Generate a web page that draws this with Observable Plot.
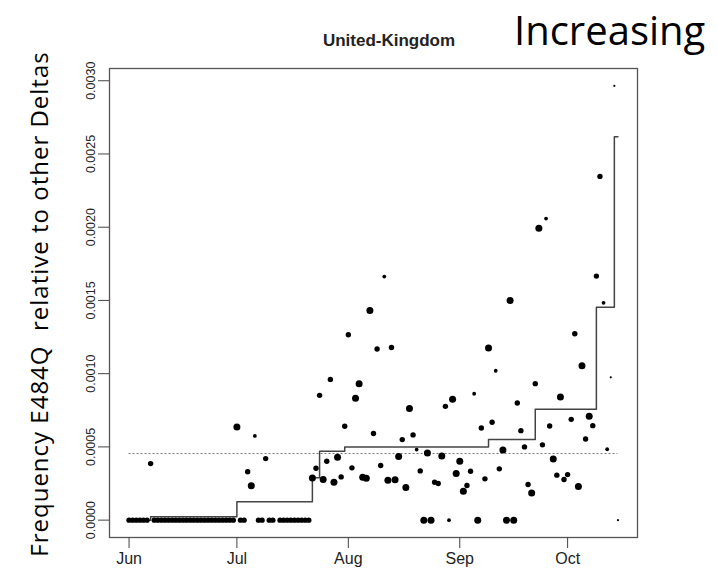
<!DOCTYPE html>
<html>
<head>
<meta charset="utf-8">
<script src="https://cdn.jsdelivr.net/npm/d3@7"></script>
<script src="https://cdn.jsdelivr.net/npm/@observablehq/plot@0.6"></script>
<style>
  body { margin: 0; background: #fff; }
  #chart { width: 718px; height: 575px; }
</style>
</head>
<body>
<div id="chart"></div>
<script>
// Daily frequency of E484Q among Delta sequences, United Kingdom, 2021.
// Each month: day of month, frequency, and a relative sequence-count weight (dot size).
const junDay  = [1,2,3,4,5,6,7,8,9,10,11,12,13,14,15,16,17,18,19,20,21,22,23,24,25,26,27,28,29,30];
const junFreq = [0,0,0,0,0,0,0.000386,0,0,0,0,0,0,0,0,0,0,0,0,0,0,0,0,0,0,0,0,0,0,0];
const junWt   = [3,3,3,3,3,3,3,3,3,3,3,3,3,3,3,3,3,3,3,3,3,3,3,3,3,3,3,3,3,3];

const julDay  = [1,2,3,4,5,6,7,8,9,10,11,13,14,15,16,17,18,19,20,21,22,23,24,25,26,27,28,29,30,31];
const julFreq = [0.000636,0,0,0.00033,0.000234,0.000575,0,0,0.00042,0,0,
                 0,0,0,0,0,0,0,0,0,
                 0.000288,0.000354,0.000852,0.000277,0.000402,0.000961,0.000259,0.000429,0.000295,0.000641];
const julWt   = [4,3,3,3,4,2,3,3,3,3,3, 3,3,3,3,3,3,3,3,3, 4,3,3,4,3,3,4,4,3,3];

const augDay  = [1,2,3,4,5,6,7,8,9,10,11,12,13,14,15,16,17,18,19,20,21,22,23,24,25,26,27,28,29,30,31];
const augFreq = [0.001266,0.000357,0.000832,0.000932,0.000293,0.000286,0.001431,0.000591,0.001168,0.000373,
                 0.001663,0.000273,0.001179,0.000275,0.000434,0.00055,0.000223,0.000763,0.000582,0.000482,
                 0.000336,0,0.000459,0,0.000259,0.00025,0.000438,0.000777,0,0.000825,
                 0.000318];
const augWt   = [3,3,4,4,4,4,4,3,3,3, 2,4,3,4,4,3,4,4,3,2, 3,4,4,4,3,3,4,3,2,4, 4];

const sepDay  = [1,2,3,4,5,6,7,8,9,10,11,12,13,14,15,16,17,18,19,20,21,22,23,24,25,26,27,28,29,30];
const sepFreq = [0.000402,0.000198,0.000236,0.000334,0.000863,0,0.000629,0.000282,0.001175,0.000668,
                 0.00102,0.00035,0.000479,0,0.0015,0,0.0008,0.000611,0.0005,0.000243,
                 0.000186,0.000932,0.001993,0.000514,0.002059,0.000643,0.000418,0.000307,0.000841,0.000277];
const sepWt   = [4,4,3,3,2,4,3,3,4,3, 2,3,4,4,4,4,3,3,3,3, 4,3,4,3,2,3,4,3,4,3];

const octDay  = [1,2,3,4,5,6,7,8,9,10,11,12,13,14,15];
const octFreq = [0.000311,0.000688,0.001273,0.00023,0.001054,0.000554,0.000709,0.000645,0.001666,0.002347,
                 0.001484,0.000484,0.000975,0.002965,0];
const octWt   = [3,3,3,4,4,3,4,3,3,3, 2,2,1,1,1];

// Fitted step estimate (changes at the listed dates) and the overall mean level.
const stepDates = ["2021-06-01","2021-06-07","2021-07-01","2021-07-22","2021-07-24","2021-07-31",
                   "2021-09-09","2021-09-22","2021-10-09","2021-10-14","2021-10-15"];
const stepLevel = [0,0.0000225,0.000125,0.00029,0.00047,0.0005,0.00055,0.000757,0.001454,0.002618,0.002618];
const meanLevel = 0.000455;

const monthTicks = ["2021-06-01","2021-07-01","2021-08-01","2021-09-01","2021-10-01"];
const freqTicks  = [0,0.0005,0.001,0.0015,0.002,0.0025,0.003];

const titleText  = "United-Kingdom";
const trendText  = "Increasing";
const yLabelText = "Frequency E484Q  relative to other Deltas";

// Build the observation table
const months = [
  [6, junDay, junFreq, junWt],
  [7, julDay, julFreq, julWt],
  [8, augDay, augFreq, augWt],
  [9, sepDay, sepFreq, sepWt],
  [10, octDay, octFreq, octWt]
];
const obs = [];
for (const [m, days, freq, wt] of months) {
  days.forEach((d, i) => obs.push({date: new Date(Date.UTC(2021, m - 1, d)), freq: freq[i], weight: wt[i]}));
}
const steps = stepDates.map((d, i) => ({date: new Date(d + "T00:00:00Z"), level: stepLevel[i]}));

// Base-R style 4% padding around the data range
const [x0, x1] = d3.extent(obs, d => d.date);
const xPad = 0.04 * (x1 - x0);
const yMax = d3.max(obs, d => d.freq);
const yPad = 0.04 * yMax;

const chart = Plot.plot({
  width: 718,
  height: 575,
  marginLeft: 109,
  marginRight: 81,
  marginTop: 68,
  marginBottom: 38,
  style: {fontFamily: "'Liberation Sans', Arial, sans-serif", background: "#fff", color: "#222"},
  x: {type: "utc", domain: [new Date(+x0 - xPad), new Date(+x1 + xPad)]},
  y: {domain: [-yPad, yMax + yPad]},
  r: {type: "linear", domain: [1, 4], range: [1.1, 3.5]},
  marks: [
    Plot.frame({stroke: "#555", strokeWidth: 1.3}),
    Plot.axisX({
      ticks: monthTicks.map(d => new Date(d + "T00:00:00Z")),
      tickFormat: d3.utcFormat("%b"),
      tickSize: 11, tickPadding: 4, fontSize: 16, label: null, stroke: "#444"
    }),
    Plot.axisY({
      ticks: freqTicks,
      tickFormat: d => d.toFixed(4),
      tickSize: 11, tickPadding: 4, tickRotate: -90, fontSize: 12.5, label: null, stroke: "#444"
    }),
    Plot.ruleY([meanLevel], {x1: x0, x2: x1, stroke: "#777", strokeWidth: 1, strokeDasharray: "2,2"}),
    Plot.line(steps, {x: "date", y: "level", curve: "step-after", stroke: "#444", strokeWidth: 1.5}),
    Plot.dot(obs, {x: "date", y: "freq", r: "weight", fill: "#000", stroke: "none"})
  ]
});

const svg = d3.select(chart);
svg.append("text")
  .attr("x", 389).attr("y", 46)
  .attr("text-anchor", "middle")
  .style("font", "bold 17px 'Liberation Sans', Arial, sans-serif")
  .attr("fill", "#222")
  .text(titleText);
svg.append("text")
  .attr("x", 514).attr("y", 45)
  .attr("text-anchor", "start")
  .style("font", "40px 'Open Sans', sans-serif")
  .attr("fill", "#000")
  .text(trendText);
svg.append("text")
  .attr("transform", "translate(48,304) rotate(-90)")
  .attr("text-anchor", "middle")
  .style("font", "24px 'Open Sans', sans-serif")
  .style("letter-spacing", "1px")
  .style("white-space", "pre")
  .attr("fill", "#000")
  .text(yLabelText);

document.getElementById("chart").append(chart);
</script>
</body>
</html>
